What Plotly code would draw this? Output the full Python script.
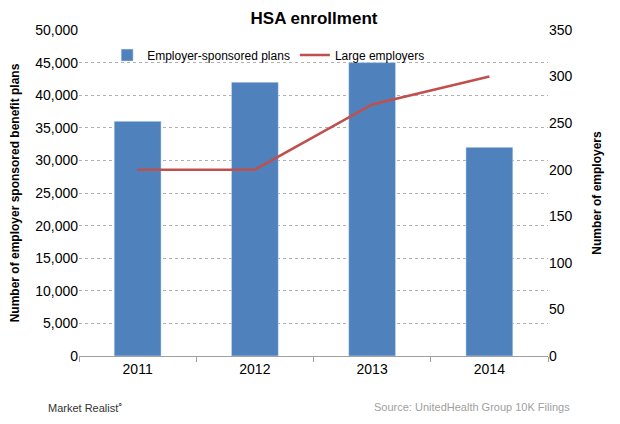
import plotly.graph_objs as go

years = ['2011', '2012', '2013', '2014']
plans = [36000, 42000, 45000, 32000]
employers = [200, 200, 270, 300]

font = 'Liberation Sans, Arial, sans-serif'

trace1 = go.Bar(
    x=years, y=plans, name='Employer-sponsored plans',
    marker=dict(color='#4F81BD'),
    yaxis='y'
)
trace2 = go.Scatter(
    x=years, y=employers, name='Large employers',
    mode='lines', line=dict(color='#C0504D', width=2.5),
    yaxis='y2'
)

# page body keeps an 8px margin, so the figure is a bit smaller than the window
layout = go.Layout(
    width=612, height=416,
    margin=dict(l=71, r=72, t=22, b=68),
    paper_bgcolor='white', plot_bgcolor='white',
    font=dict(family=font, size=13, color='#000000'),
    title=dict(text='<b>HSA enrollment</b>', x=0.5, xanchor='center',
               y=0.976, yanchor='middle', font=dict(size=17)),
    bargap=0.6,
    showlegend=True,
    legend=dict(orientation='h', x=0.06, y=0.923, xanchor='left', yanchor='middle',
                font=dict(size=12), bgcolor='rgba(0,0,0,0)'),
    xaxis=dict(
        type='category', showgrid=False, showline=True, linecolor='#A0A0A0',
        linewidth=1, ticks='outside', tickson='boundaries', ticklen=5,
        tickcolor='#A0A0A0', tickfont=dict(size=14), automargin=False
    ),
    yaxis=dict(
        range=[0, 50000], dtick=5000, tickformat=',d', automargin=False,
        showgrid=True, gridcolor='#B0B0B0', griddash='dot', gridwidth=1,
        zeroline=False, showline=False, ticks='', tickfont=dict(size=14),
        title=dict(text='<b>Number of employer sponsored benefit plans</b>',
                   font=dict(size=12), standoff=14)
    ),
    yaxis2=dict(
        range=[0, 350], dtick=50, overlaying='y', side='right', automargin=False,
        showgrid=False, zeroline=False, showline=False, ticks='',
        tickfont=dict(size=14),
        title=dict(text='<b>Number of employers</b>', font=dict(size=12), standoff=21)
    ),
    annotations=[
        dict(text='Market Realist<sup>\u2315</sup>', xref='paper', yref='paper',
             x=-0.07, y=-0.156, xanchor='left', yanchor='middle', showarrow=False,
             font=dict(size=11, color='#333333', family='Liberation Sans Narrow, Arial Narrow, sans-serif')),
        dict(text='Source: UnitedHealth Group 10K Filings', xref='paper', yref='paper',
             x=1.051, y=-0.156, xanchor='right', yanchor='middle', showarrow=False,
             font=dict(size=11, color='#A0A0A0')),
    ]
)

fig = go.Figure(data=[trace1, trace2], layout=layout)
fig.write_html('out.html')
